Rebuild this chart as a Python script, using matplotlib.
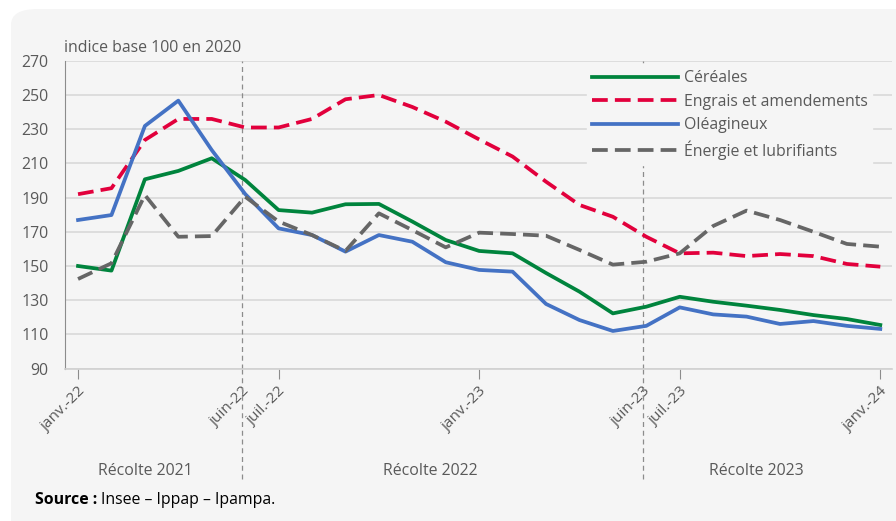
import numpy as np
import matplotlib
matplotlib.use("Agg")
import matplotlib.pyplot as plt
from matplotlib.patches import FancyBboxPatch

plt.rcParams['font.family'] = ['Open Sans', 'DejaVu Sans']

# Indices mensuels, janv. 2022 -> janv. 2024 (base 100 en 2020)
months = np.arange(25)
cereales = [150, 147.3, 200.7, 205.6, 213, 200.3, 182.7, 181.2, 186.1, 186.3, 176, 165.2, 158.8,
            157.4, 145.9, 135, 122.3, 126.2, 132, 129.1, 126.8, 124.3, 121.3, 119, 115.5]
engrais = [192, 195.5, 223.7, 236, 236, 231, 231, 236, 247.5, 250, 243, 234.4, 224,
           214, 199.3, 185.7, 178.8, 167.1, 157.4, 157.8, 155.8, 157, 155.8, 151.2, 149.6]
oleagineux = [176.9, 179.8, 231.9, 246.7, 217.8, 192.1, 172, 168.1, 158.4, 168.1, 164.2, 152.2, 147.7,
              146.7, 127.8, 118.4, 112, 115, 125.8, 121.7, 120.4, 116.1, 117.8, 115, 113.2]
energie = [142.4, 151.6, 191.5, 167.1, 167.5, 190.5, 176, 168.1, 158.8, 180.8, 171, 160.9, 169.5,
           168.7, 167.7, 159.4, 150.8, 152.5, 157.4, 173.4, 182.4, 176.9, 170, 162.9, 161.3]

tick_pos = [0, 4.9, 6, 12, 16.9, 18, 24]
tick_labels = ['janv.-22', 'juin-22', 'juil.-22', 'janv.-23', 'juin-23', 'juil.-23', 'janv.-24']
harvest_breaks = [4.9, 16.9]
harvest_labels = ['Récolte 2021', 'Récolte 2022', 'Récolte 2023']
harvest_centers = [2.0, 10.55, 20.3]

BG = '#f5f5f5'
TXT = '#595959'
FS = 11.4

fig = plt.figure(figsize=(8.96, 5.21), dpi=100)
fig.patch.set_facecolor('white')
card = FancyBboxPatch((11 / 896, -0.1), 1.5, 1.1 - 9 / 521,
                      boxstyle='round,pad=0,rounding_size=0.03',
                      transform=fig.transFigure, facecolor=BG, edgecolor='none', zorder=-10)
fig.patches.append(card)

ax = fig.add_axes([65 / 896, 1 - 368.6 / 521, (892 - 65) / 896, (368.6 - 60.8) / 521])
ax.set_facecolor(BG)
ax.set_xlim(-0.39, 24.35)
ax.set_ylim(90, 270)
ax.set_yticks(np.arange(90, 271, 20))
ax.yaxis.grid(True, color='#d9d9d9', lw=1.2)
ax.set_axisbelow(True)
for s in ['top', 'right']:
    ax.spines[s].set_visible(False)
ax.spines['left'].set_color('#8c8c8c')
ax.spines['bottom'].set_color('#d0d0d0')
ax.spines['bottom'].set_linewidth(1.2)
ax.tick_params(axis='y', length=0, labelsize=FS, labelcolor=TXT, pad=12)

ax.set_xticks(tick_pos)
ax.set_xticklabels(tick_labels, rotation=45, ha='right', va='top',
                   rotation_mode='anchor', fontsize=11.1, color=TXT)
ax.tick_params(axis='x', length=7, color='#8c8c8c', pad=4)
for i in (1, 4):
    ax.xaxis.get_major_ticks()[i].tick1line.set_visible(False)

lw = 2.7
dash = (4.2, 1.9)
ax.plot(months, cereales, color='#00843d', lw=lw, label='Céréales', zorder=3)
ax.plot(months, engrais, color='#e2003c', lw=lw, dashes=dash, dash_capstyle='butt',
        label='Engrais et amendements', zorder=3)
ax.plot(months, oleagineux, color='#4472c4', lw=lw, label='Oléagineux', zorder=3)
ax.plot(months, energie, color='#666666', lw=lw, dashes=dash, dash_capstyle='butt',
        label='Énergie et lubrifiants', zorder=3)

# separations between harvest years, running below the axis
for xb in harvest_breaks:
    ax.axvline(xb, ymin=0, ymax=1, color='#8c8c8c', lw=0.9, ls=(0, (4, 3)), zorder=1)
    ax.plot([xb, xb], [90, 90 - 110 / 1.71], color='#8c8c8c', lw=0.9, ls=(0, (4, 3)),
            clip_on=False, zorder=1)
for xc, lab in zip(harvest_centers, harvest_labels):
    ax.text(xc, 90 - 102 / 1.71, lab, ha='center', va='center', fontsize=FS, color=TXT)

leg = ax.legend(loc='upper right', bbox_to_anchor=(0.976, 0.985), frameon=True, fancybox=False,
                facecolor=BG, edgecolor=BG, framealpha=1, fontsize=FS, handlelength=5.4,
                handletextpad=0.38, labelspacing=0.47, borderpad=0.3, borderaxespad=0)
for t in leg.get_texts():
    t.set_color(TXT)

fig.text(64 / 896, 1 - 48 / 521, 'indice base 100 en 2020', fontsize=FS, color=TXT,
         ha='left', va='center')
fig.text(35 / 896, 1 - 500 / 521, 'Source :', fontsize=FS, color='black',
         fontweight='bold', ha='left', va='center')
fig.text(101 / 896, 1 - 500 / 521, 'Insee – Ippap – Ipampa.', fontsize=FS, color='black',
         ha='left', va='center')

fig.savefig('out.png', dpi=100, facecolor=fig.get_facecolor())
